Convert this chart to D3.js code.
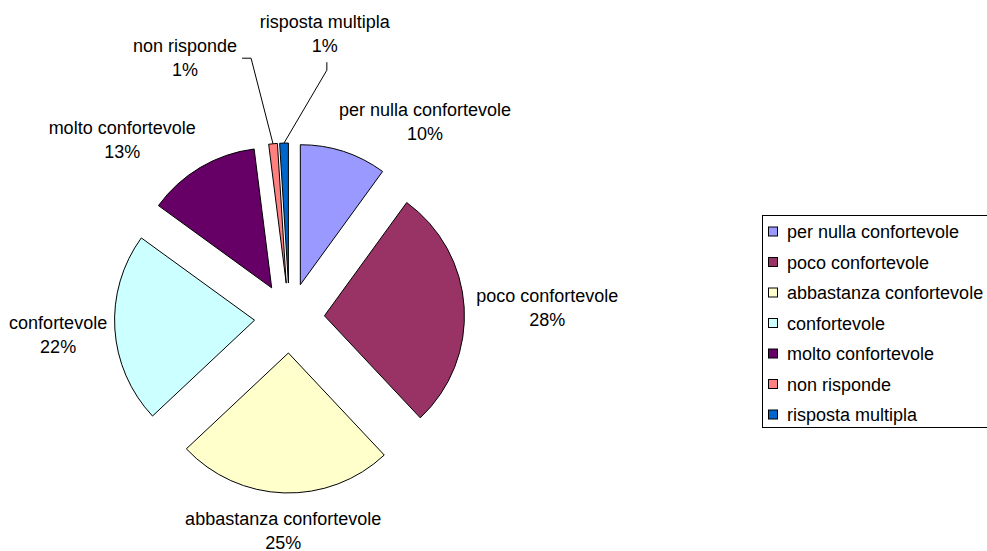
<!DOCTYPE html>
<html>
<head>
<meta charset="utf-8">
<script src="https://cdn.jsdelivr.net/npm/d3@7"></script>
<style>
  body { margin: 0; background: #fff; }
  text { font-family: "Liberation Sans", Arial, sans-serif; font-size: 18px; fill: #000; }
</style>
</head>
<body>
<div id="chart"></div>
<script>
var categories = ['per nulla confortevole', 'poco confortevole', 'abbastanza confortevole', 'confortevole', 'molto confortevole', 'non risponde', 'risposta multipla'];
var values = [10, 28, 25, 22, 13, 1, 1];
var colors = ['#9999FF', '#993366', '#FFFFCC', '#CCFFFF', '#660066', '#FF8080', '#0066CC'];

var width = 987, height = 551;
var cx = 289.5, cy = 318, radius = 140, explode = 35;

// where excel put each label (angle in degrees clockwise from top, distance from centre)
var labelLayout = [
  { angle: 34.7, dist: 238 },
  { angle: 87.8, dist: 258 },
  { angle: 181.7, dist: 213 },
  { angle: 265.8, dist: 232 },
  { angle: 316.7, dist: 244 },
  { angle: 338.1, dist: 280 },
  { angle: 7.1, dist: 286 }
];

var svg = d3.select('#chart').append('svg')
  .attr('width', width)
  .attr('height', height);

var total = d3.sum(values);
var pie = d3.pie().sort(null).value(function(d) { return d; });
var arcs = pie(values);
var arc = d3.arc().innerRadius(0).outerRadius(radius);

function polar(angle, r) {
  return [Math.sin(angle) * r, -Math.cos(angle) * r];
}

var g = svg.append('g').attr('transform', 'translate(' + cx + ',' + cy + ')');

g.selectAll('.slice')
  .data(arcs)
 .enter().append('path')
  .attr('class', 'slice')
  .attr('transform', function(d) {
    var p = polar((d.startAngle + d.endAngle) / 2, explode);
    return 'translate(' + p[0] + ',' + p[1] + ')';
  })
  .attr('d', arc)
  .style('fill', function(d, i) { return colors[i]; })
  .style('stroke', '#000')
  .style('stroke-width', 1);

var labels = g.selectAll('.label')
  .data(arcs)
 .enter().append('text')
  .attr('class', 'label')
  .attr('text-anchor', 'middle')
  .attr('transform', function(d, i) {
    var p = polar(labelLayout[i].angle * Math.PI / 180, labelLayout[i].dist);
    return 'translate(' + p[0] + ',' + p[1] + ')';
  });

labels.append('tspan')
  .attr('x', 0)
  .attr('y', -6)
  .text(function(d, i) { return categories[i]; });
labels.append('tspan')
  .attr('x', 0)
  .attr('y', 18)
  .text(function(d) { return Math.round(d.value / total * 100) + '%'; });

// leader lines for the two thin slices
function sliceTip(d) {
  var mid = (d.startAngle + d.endAngle) / 2;
  var e = polar(mid, explode), o = polar(mid, radius);
  return [e[0] + o[0], e[1] + o[1]];
}
function labelPoint(i) {
  return polar(labelLayout[i].angle * Math.PI / 180, labelLayout[i].dist);
}

var line = d3.line();
var lp5 = labelPoint(5), tip5 = sliceTip(arcs[5]);
g.append('path')
  .attr('d', line([[lp5[0] + 57, lp5[1]], [lp5[0] + 66, lp5[1]], tip5]))
  .style('fill', 'none').style('stroke', '#000').style('stroke-width', 1);

var lp6 = labelPoint(6), tip6 = sliceTip(arcs[6]);
g.append('path')
  .attr('d', line([[lp6[0] + 2, lp6[1] + 28], [lp6[0] + 2, lp6[1] + 36], tip6]))
  .style('fill', 'none').style('stroke', '#000').style('stroke-width', 1);

// legend
var legend = svg.append('g').attr('transform', 'translate(762,215)');
legend.append('rect')
  .attr('x', 0.5).attr('y', 0.5)
  .attr('width', 240).attr('height', 212)
  .style('fill', '#fff').style('stroke', '#000').style('stroke-width', 1);

var item = legend.selectAll('.item')
  .data(categories)
 .enter().append('g')
  .attr('class', 'item')
  .attr('transform', function(d, i) { return 'translate(0,' + (16.5 + i * 30.5) + ')'; });

item.append('rect')
  .attr('x', 6.5).attr('y', -4.5)
  .attr('width', 9).attr('height', 9)
  .style('fill', function(d, i) { return colors[i]; })
  .style('stroke', '#000');

item.append('text')
  .attr('x', 25)
  .attr('y', 6.5)
  .text(function(d) { return d; });
</script>
</body>
</html>
